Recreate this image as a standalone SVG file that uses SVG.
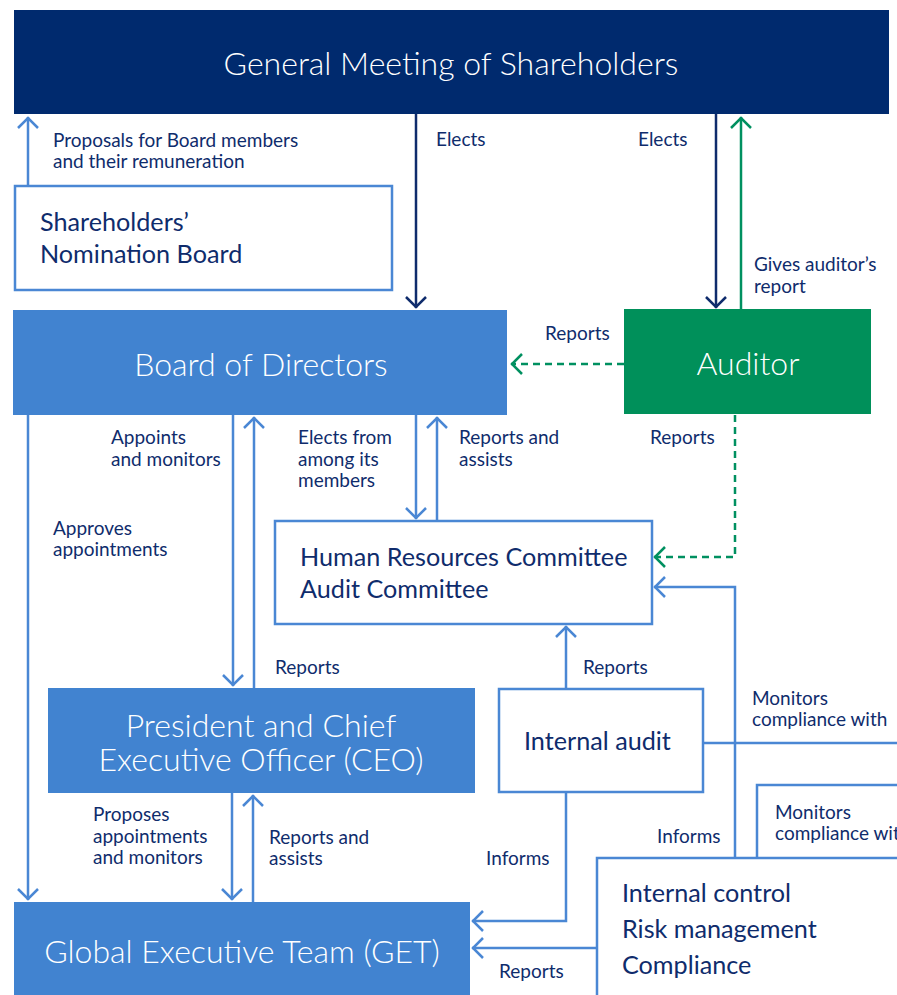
<svg xmlns="http://www.w3.org/2000/svg" width="897" height="995" viewBox="0 0 897 995">
<style>
.lbl{font-family:Lato,"Open Sans","Liberation Sans",sans-serif;font-size:19px;fill:#0f2c6c}
.box{font-family:Lato,"Open Sans","Liberation Sans",sans-serif;font-size:25.2px;fill:#0f2c6c}
.big{font-family:Lato,"Open Sans","Liberation Sans",sans-serif;font-size:32px;font-weight:300;fill:#ffffff}
.c{fill:none;stroke:#4a87d4;stroke-width:2.5}
.n{fill:none;stroke:#0f2c6c;stroke-width:2.5}
.g{fill:none;stroke:#009060;stroke-width:2.5}
.gd{fill:none;stroke:#009060;stroke-width:2.5;stroke-dasharray:7 5}
.ob{fill:#ffffff;stroke:#4a87d4;stroke-width:2.5}
</style>
<defs>
<marker id="ab" markerUnits="userSpaceOnUse" markerWidth="16" markerHeight="26" viewBox="0 -13 16 26" refX="13" refY="0" orient="auto"><path d="M2,-10 L12,0 L2,10" fill="none" stroke="#4a87d4" stroke-width="2.5"/></marker>
<marker id="an" markerUnits="userSpaceOnUse" markerWidth="16" markerHeight="26" viewBox="0 -13 16 26" refX="13" refY="0" orient="auto"><path d="M2,-10 L12,0 L2,10" fill="none" stroke="#0f2c6c" stroke-width="2.5"/></marker>
<marker id="ag" markerUnits="userSpaceOnUse" markerWidth="16" markerHeight="26" viewBox="0 -13 16 26" refX="13" refY="0" orient="auto"><path d="M2,-10 L12,0 L2,10" fill="none" stroke="#009060" stroke-width="2.5"/></marker>
</defs>

<g id="connectors">
<path class="c" d="M28,186 V117" marker-end="url(#ab)"/>
<path class="n" d="M416,114 V308" marker-end="url(#an)"/>
<path class="n" d="M716,114 V308" marker-end="url(#an)"/>
<path class="g" d="M741,309 V117" marker-end="url(#ag)"/>
<path class="gd" d="M624,364 H511" marker-end="url(#ag)"/>
<path class="gd" d="M735,415 V557 H654" marker-end="url(#ag)"/>
<path class="c" d="M28,415 V900" marker-end="url(#ab)"/>
<path class="c" d="M233,415 V686" marker-end="url(#ab)"/>
<path class="c" d="M254,688 V417" marker-end="url(#ab)"/>
<path class="c" d="M416,415 V519" marker-end="url(#ab)"/>
<path class="c" d="M437,521 V417" marker-end="url(#ab)"/>
<path class="c" d="M566,689 V626" marker-end="url(#ab)"/>
<path class="c" d="M703,743 H897"/>
<path class="c" d="M735,858 V587 H654" marker-end="url(#ab)"/>
<path class="c" d="M757,858 V785 H897"/>
<path class="c" d="M566,792 V921 H472" marker-end="url(#ab)"/>
<path class="c" d="M597,948 H472" marker-end="url(#ab)"/>
<path class="c" d="M232,793 V900" marker-end="url(#ab)"/>
<path class="c" d="M253,902 V795" marker-end="url(#ab)"/>
</g>

<g id="labels">
<text class="lbl" x="53" y="147">Proposals for Board members</text>
<text class="lbl" x="53" y="168">and their remuneration</text>
<text class="lbl" x="436" y="146">Elects</text>
<text class="lbl" x="638" y="146">Elects</text>
<text class="lbl" x="754" y="271">Gives auditor’s</text>
<text class="lbl" x="754" y="293">report</text>
<text class="lbl" x="545" y="340">Reports</text>
<text class="lbl" x="650" y="444">Reports</text>
<text class="lbl" x="111" y="444">Appoints</text>
<text class="lbl" x="111" y="466">and monitors</text>
<text class="lbl" x="53" y="535">Approves</text>
<text class="lbl" x="53" y="556">appointments</text>
<text class="lbl" x="298" y="444">Elects from</text>
<text class="lbl" x="298" y="466">among its</text>
<text class="lbl" x="298" y="487">members</text>
<text class="lbl" x="459" y="444">Reports and</text>
<text class="lbl" x="459" y="466">assists</text>
<text class="lbl" x="275" y="674">Reports</text>
<text class="lbl" x="583" y="674">Reports</text>
<text class="lbl" x="752" y="705">Monitors</text>
<text class="lbl" x="752" y="726">compliance with</text>
<text class="lbl" x="775" y="819">Monitors</text>
<text class="lbl" x="775" y="840">compliance with</text>
<text class="lbl" x="657" y="843">Informs</text>
<text class="lbl" x="486" y="865">Informs</text>
<text class="lbl" x="499" y="978">Reports</text>
<text class="lbl" x="93" y="821">Proposes</text>
<text class="lbl" x="93" y="843">appointments</text>
<text class="lbl" x="93" y="864">and monitors</text>
<text class="lbl" x="269" y="844">Reports and</text>
<text class="lbl" x="269" y="865">assists</text>
</g>

<g id="gms">
<rect x="14" y="10" width="875" height="104" fill="#002a6e"/>
<text class="big" x="451" y="75" text-anchor="middle">General Meeting of Shareholders</text>
</g>

<g id="snb">
<rect class="ob" x="15" y="186" width="377" height="104"/>
<text class="box" x="40" y="231">Shareholders’</text>
<text class="box" x="40" y="263">Nomination Board</text>
</g>

<g id="board">
<rect x="13" y="310" width="494" height="105" fill="#4183d0"/>
<text class="big" x="261" y="376" text-anchor="middle">Board of Directors</text>
</g>

<g id="auditor">
<rect x="624" y="309" width="247" height="105" fill="#00905a"/>
<text class="big" x="748" y="375" text-anchor="middle">Auditor</text>
</g>

<g id="committees">
<rect class="ob" x="275" y="521" width="377" height="103"/>
<text class="box" x="300" y="566">Human Resources Committee</text>
<text class="box" x="300" y="598">Audit Committee</text>
</g>

<g id="ceo">
<rect x="48" y="688" width="427" height="105" fill="#4183d0"/>
<text class="big" x="261" y="737" text-anchor="middle">President and Chief</text>
<text class="big" x="261" y="771" text-anchor="middle">Executive Officer (CEO)</text>
</g>

<g id="internal-audit">
<rect class="ob" x="499" y="689" width="204" height="103"/>
<text class="box" x="524" y="750">Internal audit</text>
</g>

<g id="get">
<rect x="14" y="902" width="456" height="95" fill="#4183d0"/>
<text class="big" x="242" y="963" text-anchor="middle">Global Executive Team (GET)</text>
</g>

<g id="internal-control">
<rect class="ob" x="597" y="858" width="310" height="150"/>
<text class="box" x="622" y="902">Internal control</text>
<text class="box" x="622" y="938">Risk management</text>
<text class="box" x="622" y="974">Compliance</text>
</g>
</svg>
